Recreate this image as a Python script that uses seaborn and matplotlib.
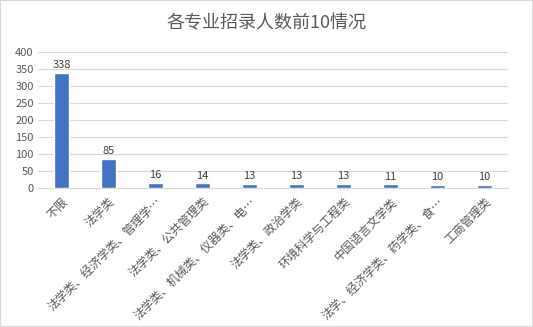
import pandas as pd
import matplotlib.pyplot as plt
import seaborn as sns

# Top 10 majors by number of admissions
majors = ['不限', '法学类', '法学类、经济学类、管理学…', '法学类、公共管理类',
          '法学类、机械类、仪器类、电…', '法学类、政治学类', '环境科学与工程类',
          '中国语言文学类', '法学、经济学类、药学类、食…', '工商管理类']
counts = [338, 85, 16, 14, 13, 13, 13, 11, 10, 10]
yticks = [0, 50, 100, 150, 200, 250, 300, 350, 400]

df = pd.DataFrame({'major': majors, 'count': counts})

sns.set_style('white')
plt.rcParams['font.family'] = ['Noto Sans CJK SC', 'DejaVu Sans']
grey = '#595959'

fig = plt.figure(figsize=(5.33, 3.27), dpi=100)
ax = fig.add_axes([0.071, 0.425, 0.882, 0.416])
sns.barplot(x='major', y='count', data=df, color='#4472C4', width=0.33,
            saturation=1, ax=ax, zorder=3)

for i, v in enumerate(counts):
    ax.text(i, v + 8, str(v), ha='center', va='bottom', fontsize=8, color='#404040')

ax.set_ylim(0, 400)
ax.set_yticks(yticks)
ax.set_yticklabels([str(t) for t in yticks], fontsize=8, color=grey)
ax.set_xticks(range(len(majors)))
ax.set_xticklabels(majors, rotation=45, ha='right', rotation_mode='anchor',
                   fontsize=8.6, color=grey)
ax.tick_params(axis='both', length=0, pad=3)
ax.tick_params(axis='x', pad=5)
ax.grid(axis='y', color='#D9D9D9', linewidth=0.8, zorder=0)
for s in ['top', 'right', 'left']:
    ax.spines[s].set_visible(False)
ax.spines['bottom'].set_color('#D9D9D9')
ax.set_xlabel('')
ax.set_ylabel('')
ax.set_xlim(-0.5, len(majors) - 0.5)

fig.suptitle('各专业招录人数前10情况', fontsize=13, color=grey, y=0.955)
fig.patches.append(plt.Rectangle((0, 0), 1, 1, transform=fig.transFigure,
                                 fill=False, edgecolor='#D9D9D9', linewidth=1.5))

fig.savefig('out.png', dpi=100)
